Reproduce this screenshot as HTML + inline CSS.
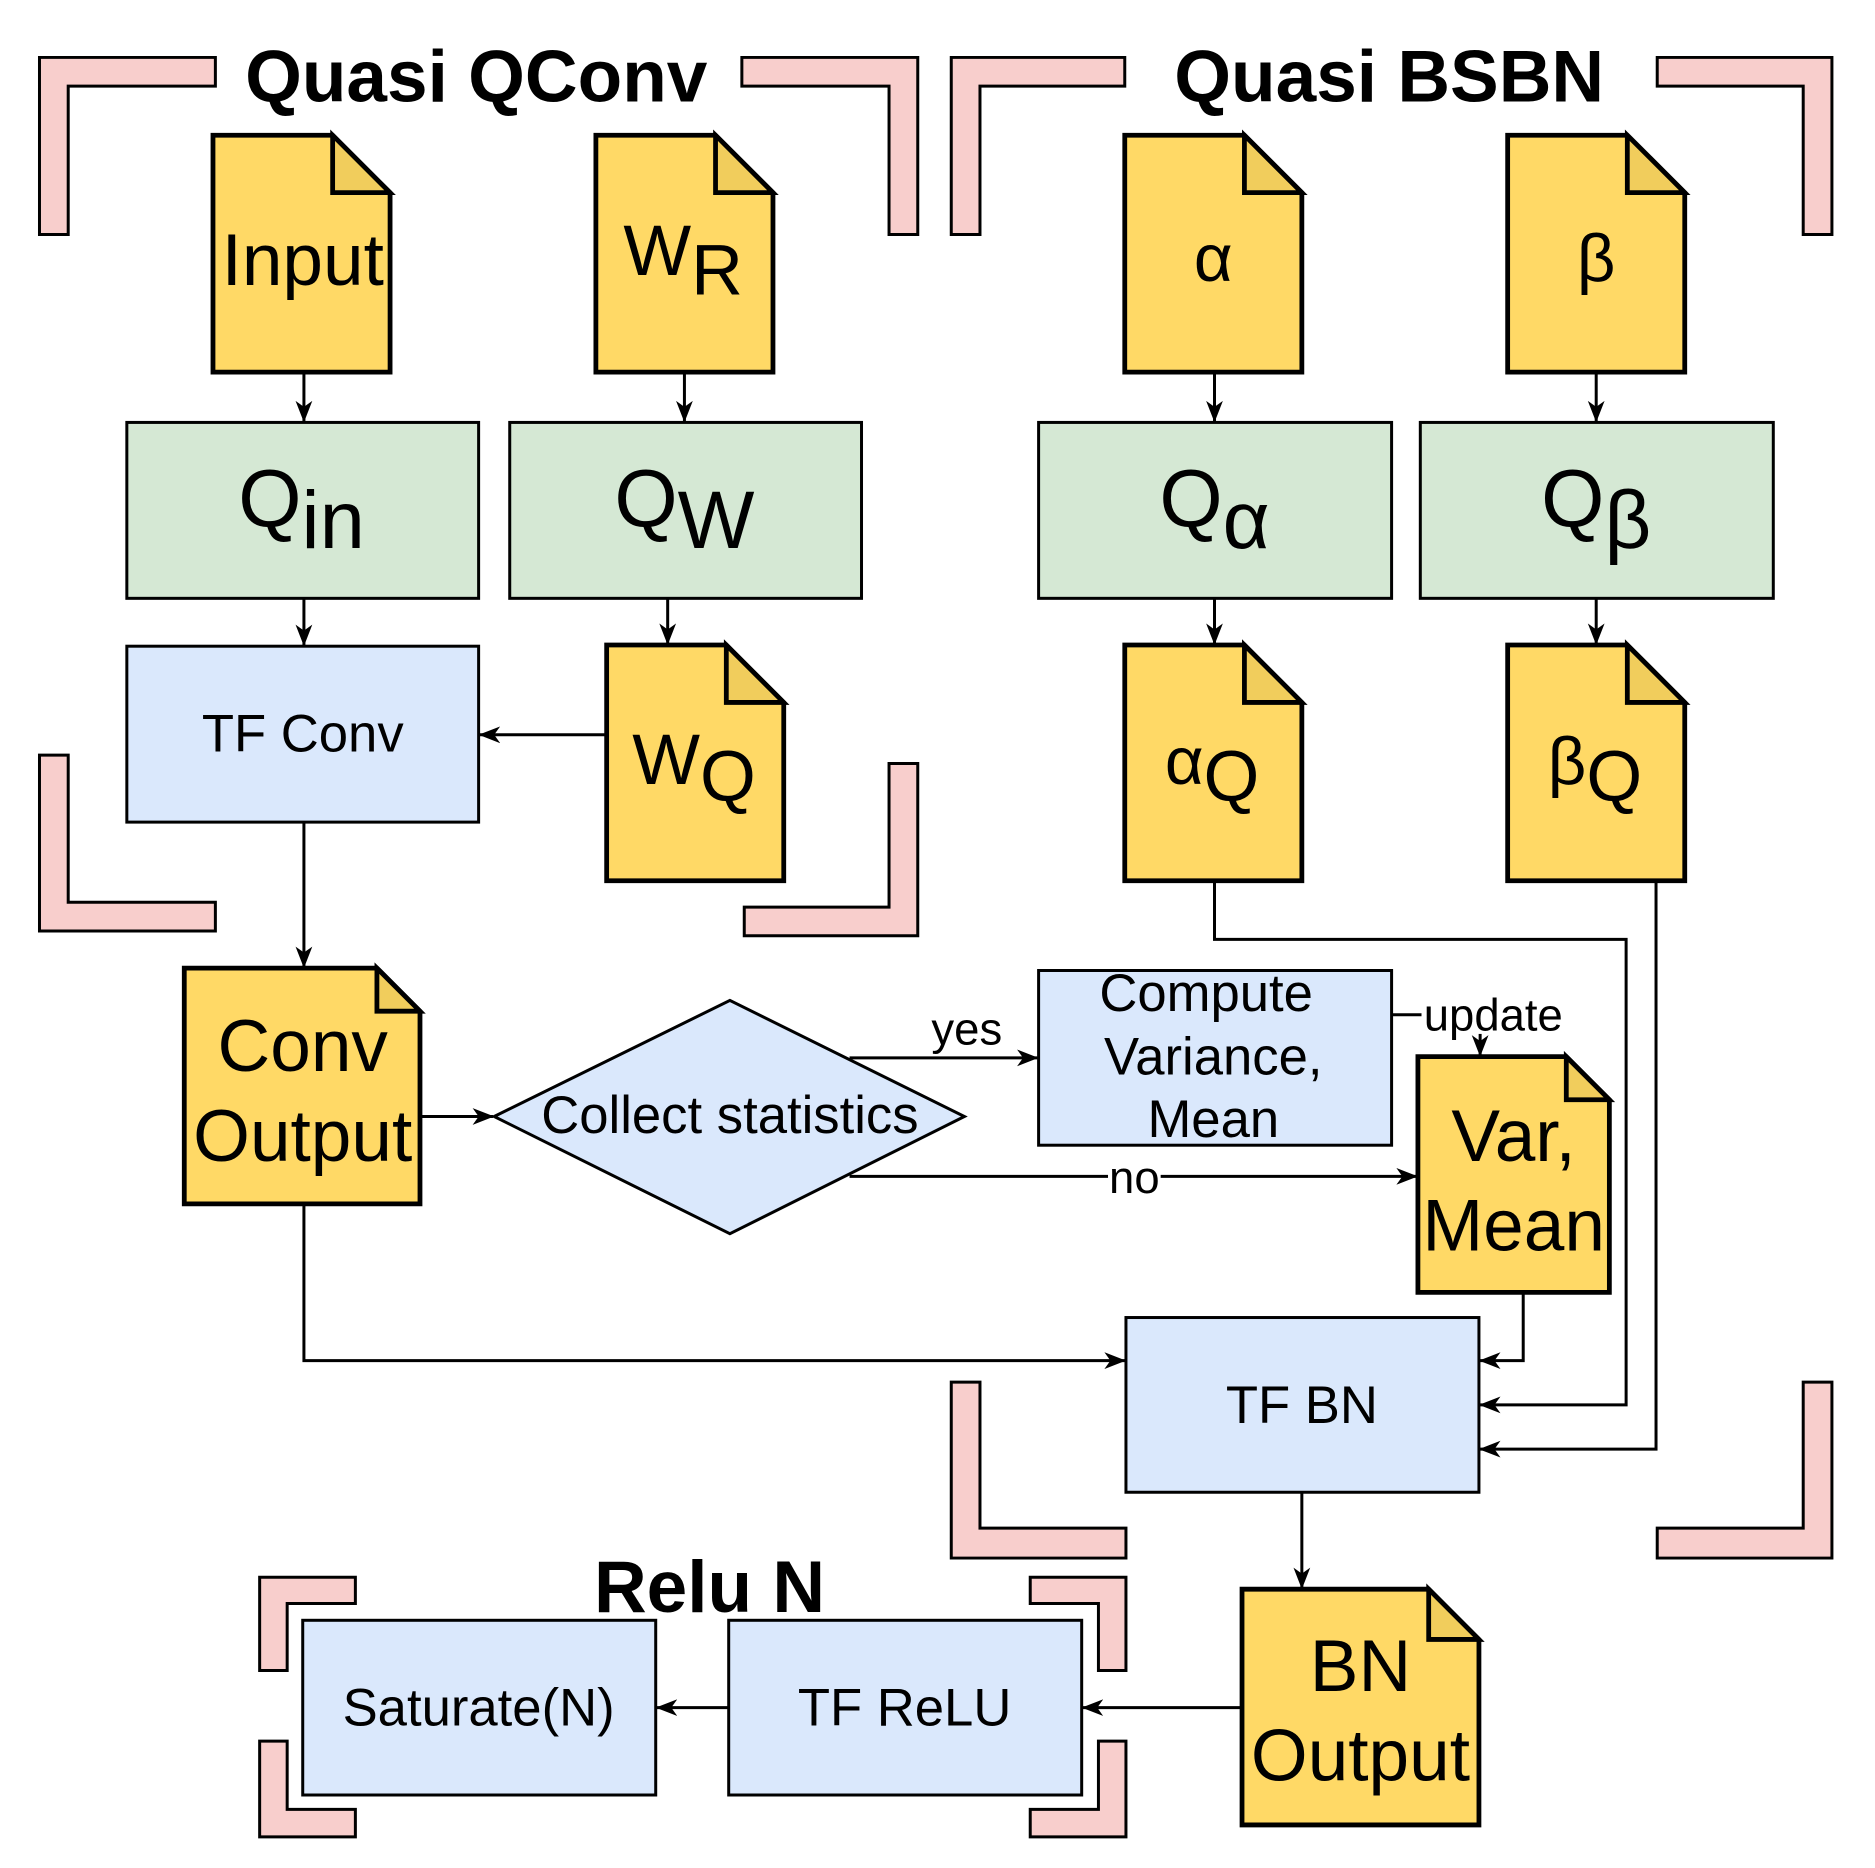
<!DOCTYPE html>
<html><head><meta charset="utf-8"><style>html,body{margin:0;padding:0;background:#fff}svg{display:block}</style></head>
<body>
<svg width="1875" height="1868" viewBox="0 0 1567 1561" preserveAspectRatio="none" xmlns="http://www.w3.org/2000/svg" font-family="Liberation Sans, DejaVu Sans, sans-serif">
<defs>
<marker id="a" markerWidth="18" markerHeight="18" refX="17" refY="9" orient="auto" markerUnits="userSpaceOnUse" viewBox="0 0 18 18"><path d="M0,2 L18,9 L0,16 L5,9 Z" fill="#000"/></marker>
</defs>
<g fill="#f8cecc" stroke="#000" stroke-width="2.5">
<polygon points="33,48 180,48 180,72 57,72 57,196 33,196"/>
<polygon points="620,48 767,48 767,196 743,196 743,72 620,72"/>
<polygon points="795,48 940,48 940,72 819,72 819,196 795,196"/>
<polygon points="1385,48 1531,48 1531,196 1507,196 1507,72 1385,72"/>
<polygon points="33,631 57,631 57,754 180,754 180,778 33,778"/>
<polygon points="743,638 767,638 767,782 622,782 622,758 743,758"/>
<polygon points="795,1155 819,1155 819,1277 941,1277 941,1302 795,1302"/>
<polygon points="1507,1155 1531,1155 1531,1302 1385,1302 1385,1277 1507,1277"/>
<polygon points="217,1318 297,1318 297,1340 240,1340 240,1396 217,1396"/>
<polygon points="861,1318 941,1318 941,1396 918,1396 918,1340 861,1340"/>
<polygon points="217,1455 240,1455 240,1512 297,1512 297,1535 217,1535"/>
<polygon points="918,1455 941,1455 941,1535 861,1535 861,1512 918,1512"/>
</g>
<g font-weight="bold" font-size="61" text-anchor="middle">
<text x="398" y="85">Quasi QConv</text>
<text x="1161" y="85">Quasi BSBN</text>
<text x="593" y="1347">Relu N</text>
</g>
<g stroke="#000" stroke-width="2.5" fill="none" marker-end="url(#a)">
<line x1="254" y1="311" x2="254" y2="352"/>
<line x1="572" y1="311" x2="572" y2="352"/>
<line x1="1015" y1="311" x2="1015" y2="352"/>
<line x1="1334" y1="311" x2="1334" y2="352"/>
<line x1="254" y1="500" x2="254" y2="539"/>
<line x1="558" y1="500" x2="558" y2="538"/>
<line x1="1015" y1="500" x2="1015" y2="538"/>
<line x1="1334" y1="500" x2="1334" y2="538"/>
<line x1="507" y1="614" x2="401" y2="614"/>
<line x1="254" y1="687" x2="254" y2="808"/>
<line x1="351" y1="933" x2="412" y2="933"/>
<polyline points="710,884 867,884"/>
<polyline points="710,983 1184,983"/>
<polyline points="1163,848 1237,848 1237,882"/>
<polyline points="254,1006 254,1137 940,1137"/>
<polyline points="1273,1080 1273,1137 1237,1137"/>
<polyline points="1015,736 1015,785 1359,785 1359,1174 1237,1174"/>
<polyline points="1384,736 1384,1211 1237,1211"/>
<line x1="1088" y1="1247" x2="1088" y2="1327"/>
<line x1="1038" y1="1427" x2="905" y2="1427"/>
<line x1="609" y1="1427" x2="549" y2="1427"/>
</g>
<rect x="1188" y="826" width="122" height="38" fill="#fff"/>
<rect x="926" y="966" width="44" height="34" fill="#fff"/>
<g font-size="38" text-anchor="middle">
<text x="1248" y="861">update</text>
<text x="948" y="997">no</text>
<text x="808" y="873">yes</text>
</g>
<g fill="#d5e8d4" stroke="#000" stroke-width="2.5">
<rect x="106" y="353" width="294" height="147"/>
<rect x="426" y="353" width="294" height="147"/>
<rect x="868" y="353" width="295" height="147"/>
<rect x="1187" y="353" width="295" height="147"/>
</g>
<g fill="#dae8fc" stroke="#000" stroke-width="2.5">
<rect x="106" y="540" width="294" height="147"/>
<rect x="868" y="811" width="295" height="146"/>
<rect x="941" y="1101" width="295" height="146"/>
<rect x="253" y="1354" width="295" height="146"/>
<rect x="609" y="1354" width="295" height="146"/>
<polygon points="413,933 610,836 806,933 610,1031"/>
</g>
<g stroke="#000" stroke-width="4" stroke-linejoin="miter">
<g transform="translate(178,113)"><path d="M0,0 H100 L148,48 V198 H0 Z" fill="#ffd966"/><path d="M100,0 V48 H148 Z" fill="#f1cd5c"/></g>
<g transform="translate(498,113)"><path d="M0,0 H100 L148,48 V198 H0 Z" fill="#ffd966"/><path d="M100,0 V48 H148 Z" fill="#f1cd5c"/></g>
<g transform="translate(940,113)"><path d="M0,0 H100 L148,48 V198 H0 Z" fill="#ffd966"/><path d="M100,0 V48 H148 Z" fill="#f1cd5c"/></g>
<g transform="translate(1260,113)"><path d="M0,0 H100 L148,48 V198 H0 Z" fill="#ffd966"/><path d="M100,0 V48 H148 Z" fill="#f1cd5c"/></g>
<g transform="translate(507,539)"><path d="M0,0 H100 L148,48 V197 H0 Z" fill="#ffd966"/><path d="M100,0 V48 H148 Z" fill="#f1cd5c"/></g>
<g transform="translate(940,539)"><path d="M0,0 H100 L148,48 V197 H0 Z" fill="#ffd966"/><path d="M100,0 V48 H148 Z" fill="#f1cd5c"/></g>
<g transform="translate(1260,539)"><path d="M0,0 H100 L148,48 V197 H0 Z" fill="#ffd966"/><path d="M100,0 V48 H148 Z" fill="#f1cd5c"/></g>
<g transform="translate(154,809)"><path d="M0,0 H161 L197,36 V197 H0 Z" fill="#ffd966"/><path d="M161,0 V36 H197 Z" fill="#f1cd5c"/></g>
<g transform="translate(1185,883)"><path d="M0,0 H124 L160,36 V197 H0 Z" fill="#ffd966"/><path d="M124,0 V36 H160 Z" fill="#f1cd5c"/></g>
<g transform="translate(1038,1328)"><path d="M0,0 H156 L198,42 V197 H0 Z" fill="#ffd966"/><path d="M156,0 V42 H198 Z" fill="#f1cd5c"/></g>
</g>
<g text-anchor="middle" fill="#000">
<text x="253" y="238" font-size="61">Input</text>
<text x="571" y="230" font-size="60">W<tspan dy="16">R</tspan></text>
<text x="1014" y="235" font-size="56">α</text>
<text x="1334" y="235" font-size="56">β</text>
<text x="252" y="440" font-size="68">Q<tspan dy="18">in</tspan></text>
<text x="572" y="440" font-size="68">Q<tspan dy="18">W</tspan></text>
<text x="1015" y="440" font-size="68">Q<tspan dy="18">α</tspan></text>
<text x="1334" y="440" font-size="68">Q<tspan dy="18">β</tspan></text>
<text x="580" y="655" font-size="60">W<tspan dy="14">Q</tspan></text>
<text x="1013" y="655" font-size="56">α<tspan font-size="60" dy="14">Q</tspan></text>
<text x="1333" y="655" font-size="56">β<tspan font-size="60" dy="14">Q</tspan></text>
<text x="253" y="628" font-size="44">TF Conv</text>
<text x="253" y="895" font-size="61">Conv</text>
<text x="253" y="970" font-size="61">Output</text>
<text x="610" y="947" font-size="44">Collect statistics</text>
<text x="1008" y="845" font-size="44">Compute</text>
<text x="1014" y="898" font-size="44">Variance,</text>
<text x="1014" y="950" font-size="44">Mean</text>
<text x="1265" y="970" font-size="61">Var,</text>
<text x="1265" y="1045" font-size="61">Mean</text>
<text x="1088" y="1189" font-size="44">TF BN</text>
<text x="1137" y="1413" font-size="61">BN</text>
<text x="1137" y="1488" font-size="61">Output</text>
<text x="756" y="1442" font-size="44">TF ReLU</text>
<text x="400" y="1442" font-size="44">Saturate(N)</text>
</g>
</svg>
</body></html>
